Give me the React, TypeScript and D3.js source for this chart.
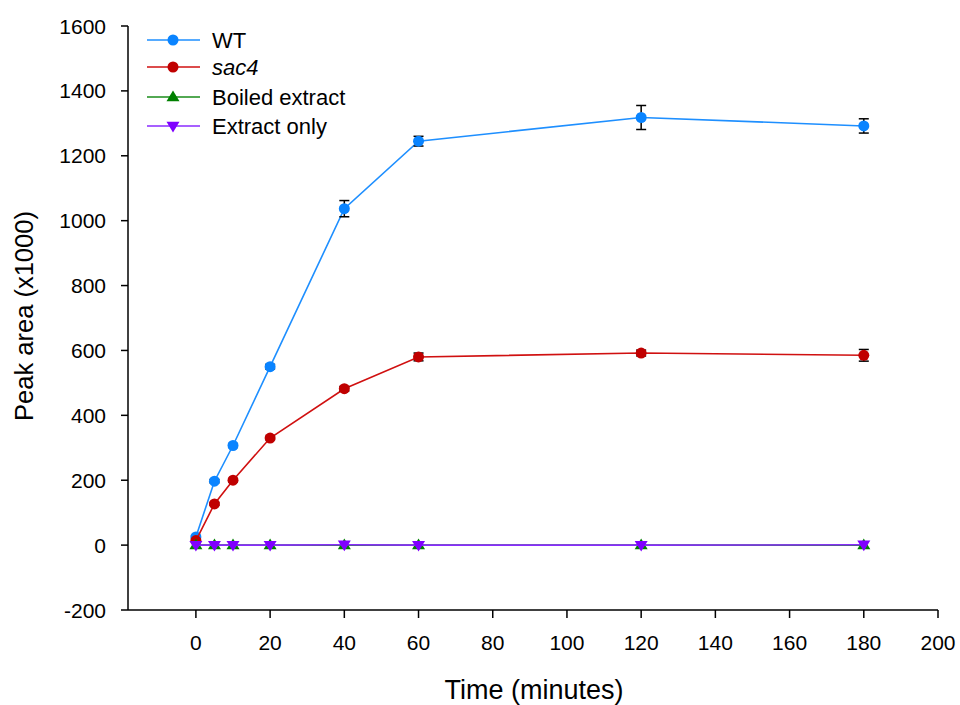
import React from "react";
import * as d3 from "d3";

const times = [0, 5, 10, 20, 40, 60, 120, 180];
const wtValues = [25, 197, 307, 550, 1037, 1245, 1318, 1292];
const wtErrors = [4, 5, 6, 7, 25, 15, 37, 22];
const sac4Values = [14, 127, 200, 330, 482, 580, 592, 585];
const sac4Errors = [3, 4, 5, 5, 7, 12, 9, 18];
const boiledValues = [0, 0, 0, 0, 0, 0, 0, 0];
const extractValues = [0, 0, 0, 0, 1, 0, 0, 1];
const xTicks = [0, 20, 40, 60, 80, 100, 120, 140, 160, 180, 200];
const yTicks = [-200, 0, 200, 400, 600, 800, 1000, 1200, 1400, 1600];

type Series = {
  name: string;
  italic: boolean;
  values: number[];
  errors: number[] | null;
  line: string;
  fill: string;
  marker: "circle" | "up" | "down";
};

const series: Series[] = [
  { name: "WT", italic: false, values: wtValues, errors: wtErrors, line: "#1E8FFF", fill: "#0A84FF", marker: "circle" },
  { name: "sac4", italic: true, values: sac4Values, errors: sac4Errors, line: "#D01010", fill: "#C00000", marker: "circle" },
  { name: "Boiled extract", italic: false, values: boiledValues, errors: null, line: "#1A8C1A", fill: "#008000", marker: "up" },
  { name: "Extract only", italic: false, values: extractValues, errors: null, line: "#8A2BFF", fill: "#8000FF", marker: "down" },
];

const font = "Arial, 'Liberation Sans', sans-serif";

function Marker({ kind, x, y, fill }: { kind: Series["marker"]; x: number; y: number; fill: string }) {
  if (kind === "circle") return <circle cx={x} cy={y} r={5.5} fill={fill} />;
  const s = 6.5;
  if (kind === "up")
    return <path d={`M${x},${y - s} L${x + s},${y + s * 0.65} L${x - s},${y + s * 0.65} Z`} fill={fill} />;
  return <path d={`M${x},${y + s} L${x + s},${y - s * 0.65} L${x - s},${y - s * 0.65} Z`} fill={fill} />;
}

export default function App() {
  const width = 960;
  const height = 705;
  const left = 128;
  const right = 938;
  const top = 26;
  const bottom = 610;

  const x = d3.scaleLinear().domain([-18.3, 200]).range([left, right]);
  const y = d3.scaleLinear().domain([-200, 1600]).range([bottom, top]);

  const line = d3
    .line<number>()
    .x((_, i) => x(times[i]))
    .y((v) => y(v));

  const legendRows = [40, 67, 97, 126];

  return (
    <svg width={width} height={height} style={{ position: "absolute", left: 0, top: 0, background: "#fff" }}>
      {/* axes */}
      <line x1={left} x2={left} y1={top} y2={bottom} stroke="#000" strokeWidth={1.5} />
      <line x1={left} x2={right} y1={bottom} y2={bottom} stroke="#000" strokeWidth={1.5} />
      {yTicks.map((t) => (
        <g key={"y" + t}>
          <line x1={left - 7} x2={left} y1={y(t)} y2={y(t)} stroke="#000" strokeWidth={1.5} />
          <text x={left - 22} y={y(t)} dy="0.36em" textAnchor="end" fontFamily={font} fontSize={21}>
            {t}
          </text>
        </g>
      ))}
      {xTicks.map((t) => (
        <g key={"x" + t}>
          <line x1={x(t)} x2={x(t)} y1={bottom} y2={bottom + 8} stroke="#000" strokeWidth={1.5} />
          <text x={x(t)} y={650} textAnchor="middle" fontFamily={font} fontSize={21}>
            {t}
          </text>
        </g>
      ))}
      <text x={534} y={699} textAnchor="middle" fontFamily={font} fontSize={27}>
        Time (minutes)
      </text>
      <text
        transform={`translate(33, 316) rotate(-90)`}
        textAnchor="middle"
        fontFamily={font}
        fontSize={25.5}
      >
        Peak area (x1000)
      </text>

      {/* series: lines, error bars, markers */}
      {series.map((s) => (
        <g key={s.name}>
          <path d={line(s.values) || ""} fill="none" stroke={s.line} strokeWidth={1.6} />
          {s.errors &&
            s.values.map((v, i) => {
              const e = s.errors![i];
              const cx = x(times[i]);
              return (
                <g key={i} stroke="#000" strokeWidth={1.5}>
                  <line x1={cx} x2={cx} y1={y(v + e)} y2={y(v - e)} />
                  <line x1={cx - 5} x2={cx + 5} y1={y(v + e)} y2={y(v + e)} />
                  <line x1={cx - 5} x2={cx + 5} y1={y(v - e)} y2={y(v - e)} />
                </g>
              );
            })}
          {s.values.map((v, i) => (
            <Marker key={i} kind={s.marker} x={x(times[i])} y={y(v)} fill={s.fill} />
          ))}
        </g>
      ))}

      {/* legend */}
      {series.map((s, i) => (
        <g key={"lg" + s.name}>
          <line x1={147} x2={200} y1={legendRows[i]} y2={legendRows[i]} stroke={s.line} strokeWidth={1.6} />
          <Marker kind={s.marker} x={173} y={legendRows[i]} fill={s.fill} />
          <text
            x={212}
            y={legendRows[i]}
            dy="0.36em"
            fontFamily={font}
            fontSize={22}
            fontStyle={s.italic ? "italic" : "normal"}
          >
            {s.name}
          </text>
        </g>
      ))}
    </svg>
  );
}
